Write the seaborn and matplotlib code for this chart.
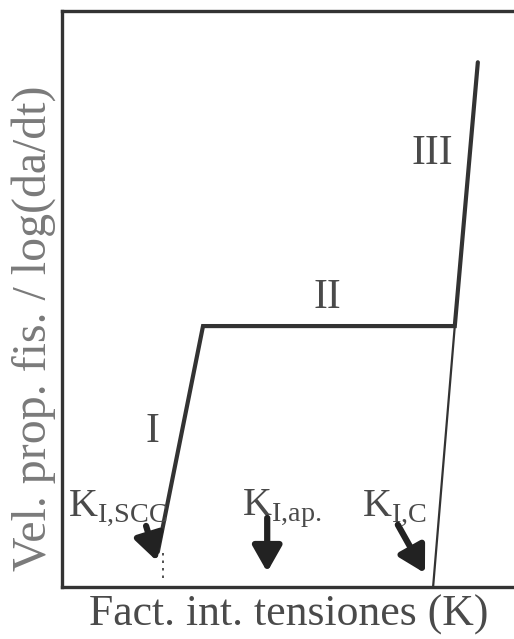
import matplotlib
matplotlib.use("Agg")
import matplotlib.pyplot as plt
import seaborn as sns
import pandas as pd

# Crack growth curve: stress intensity factor K vs log(da/dt)
curve_k = [2.12, 3.12, 8.69, 9.20]
curve_rate = [0.61, 4.53, 4.53, 9.11]
kic_k = [8.21, 8.69]
kic_rate = [0.0, 4.53]
kiscc_k = 2.23

stage_labels = ["I", "II", "III"]
stage_k = [2.01, 5.88, 8.19]
stage_rate = [2.69, 5.02, 7.53]

k_names = [r"$\mathrm{K}_{\mathrm{I{,}SCC}}$", r"$\mathrm{K}_{\mathrm{I{,}ap.}}$", r"$\mathrm{K}_{\mathrm{I{,}C}}$"]
k_text_x = [0.13, 3.98, 6.64]
k_text_y = [1.25, 1.25, 1.25]
arrow_from = [(1.86, 1.06), (4.54, 1.20), (7.43, 1.08)]
arrow_to = [(2.10, 0.45), (4.54, 0.26), (8.03, 0.24)]

sns.set_style("white")
plt.rcParams["font.family"] = ["Liberation Serif", "DejaVu Serif"]
plt.rcParams["mathtext.fontset"] = "custom"
plt.rcParams["mathtext.rm"] = "Liberation Serif"

text_color = "#4a4a4a"
line_color = "#333333"

fig = plt.figure(figsize=(5.14, 6.39), dpi=100)
ax = fig.add_axes([62 / 514, 52 / 639, 1.0, 576 / 639])
ax.set_xlim(0, 10 * 514 / 452)
ax.set_ylim(0, 10)

df = pd.DataFrame({"K": curve_k, "rate": curve_rate})
sns.lineplot(data=df, x="K", y="rate", sort=False, ax=ax, color=line_color,
             lw=3.0, solid_joinstyle="miter", solid_capstyle="round")
sns.lineplot(x=kic_k, y=kic_rate, sort=False, ax=ax, color=line_color, lw=1.6)
ax.plot([kiscc_k, kiscc_k], [0.15, 0.6], color=line_color, lw=1.2, ls=(0, (1.5, 3)))

for lab, x, y in zip(stage_labels, stage_k, stage_rate):
    ax.text(x, y, lab, ha="center", va="center", fontsize=30, color=text_color)

for lab, x, y in zip(k_names, k_text_x, k_text_y):
    ax.text(x, y, lab, ha="left", va="baseline", fontsize=29, color=text_color)

for (x0, y0), (x1, y1) in zip(arrow_from, arrow_to):
    ax.annotate("", xy=(x1, y1), xytext=(x0, y0),
                arrowprops=dict(arrowstyle="-|>,head_length=0.6,head_width=0.34",
                                lw=4.5, color="#222222", mutation_scale=26,
                                shrinkA=0, shrinkB=0))

ax.set_xticks([])
ax.set_yticks([])
ax.set_xlabel("")
ax.set_ylabel("")
for side in ["left", "bottom", "top", "right"]:
    ax.spines[side].set_linewidth(2.4)
    ax.spines[side].set_color(line_color)

fig.text(289 / 514, 1 - 615 / 639, "Fact. int. tensiones (K)", ha="center", va="center",
         fontsize=31.5, color=text_color)
fig.text(34 / 514, 1 - 328 / 639, "Vel. prop. fis. / log(da/dt)", ha="center", va="center",
         rotation=90, fontsize=34.5, color="#7a7a7a")

fig.savefig("out.png", dpi=100)
